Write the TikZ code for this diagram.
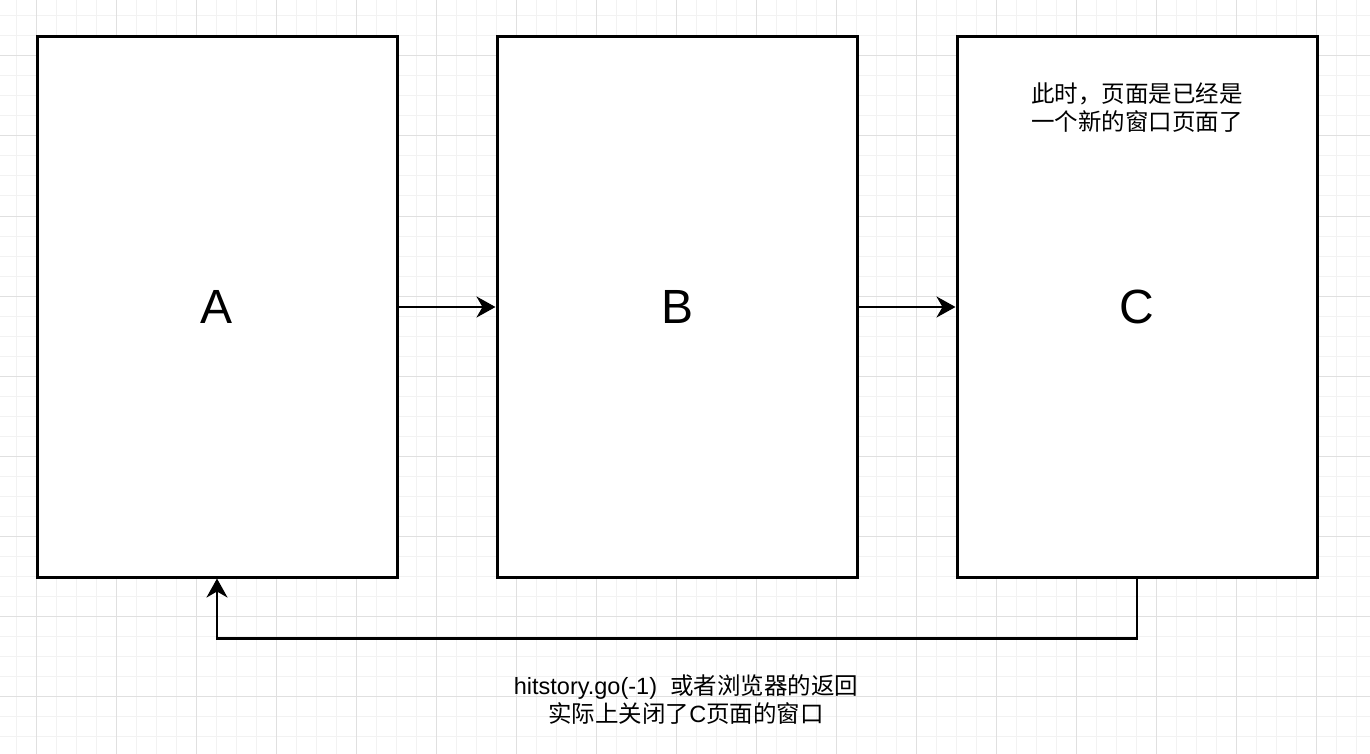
\documentclass[tikz,border=0pt]{standalone}
\usepackage{fontspec}
\setmainfont{Liberation Sans}
\newfontfamily\cjk{Noto Sans CJK SC}
\usepackage{tikz}
\usetikzlibrary{arrows.meta}

\begin{document}
\begin{tikzpicture}[x=1pt,y=-1pt,
  page/.style={draw,line width=3pt,minimum width=360pt,minimum height=540pt,
    inner sep=0pt,font=\fontsize{48}{58}\selectfont},
  link/.style={line width=2.6pt,-{Stealth[length=19pt,width=21pt,inset=6pt]}},
  note/.style={align=center,inner sep=0pt,font=\fontsize{23.5}{28}\selectfont}]
  % 1px = 1pt、y は下向き
  \fill[white] (0,0) rectangle (1370,754);
  \useasboundingbox (0,0) rectangle (1370,754);

  % 方眼(細線 20px、太線 80px)
  \foreach \x in {16,36,...,1356} \draw[gray!10,line width=1pt] (\x,0) -- (\x,754);
  \foreach \y in {16,36,...,736} \draw[gray!10,line width=1pt] (0,\y) -- (1370,\y);
  \foreach \x in {36,116,...,1316} \draw[gray!24,line width=1pt] (\x,0) -- (\x,754);
  \foreach \y in {56,136,...,696} \draw[gray!24,line width=1pt] (0,\y) -- (1370,\y);

  % ページ
  \node[page,fill=white] (pageA) at (217,307) {A};
  \node[page,fill=white] (pageB) at (677,307) {B};
  \node[page,fill=white] (pageC) at (1137,307) {C};

  \node[note] (hint) at (1137,108) {{\cjk 此时，页面是已经是}\\{\cjk 一个新的窗口页面了}};

  % 遷移
  \draw[link] (pageA) -- (pageB);
  \draw[link] (pageB) -- (pageC);
  \draw[link] (pageC.south) -- ++(0,60) -| (pageA.south);

  \node[note] (back) at (686,700)
    {hitstory.go(-1)\ \ {\cjk 或者浏览器的返回}\\{\cjk 实际上关闭了}C{\cjk 页面的窗口}};
\end{tikzpicture}
\end{document}
